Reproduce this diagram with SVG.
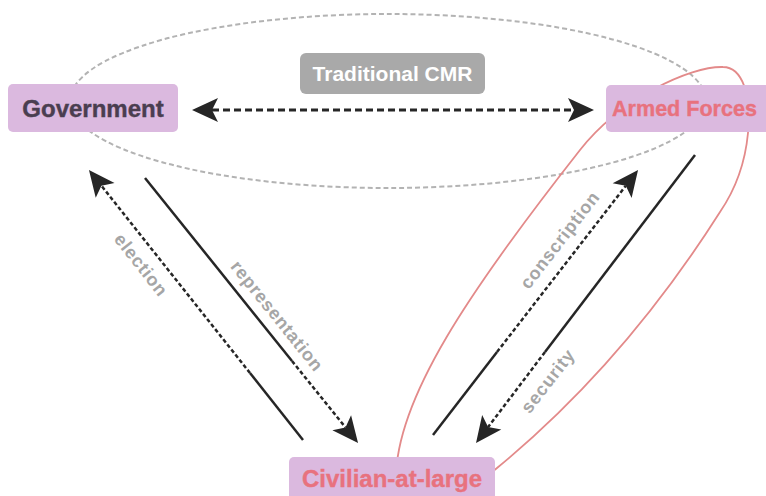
<svg xmlns="http://www.w3.org/2000/svg" width="766" height="496" viewBox="0 0 766 496">
<style>
.node rect{fill:#dbb9df}
.nt{font-family:"Liberation Sans",Arial,sans-serif;font-weight:bold;font-size:24px;text-anchor:middle;stroke-width:0.4}
.lbl{font-family:"Liberation Sans",Arial,sans-serif;font-weight:bold;font-size:18px;fill:#a6a6a6;text-anchor:middle;dominant-baseline:central;letter-spacing:0.8px}
.solid{fill:none;stroke:#262626;stroke-width:2.5}
.dash{fill:none;stroke:#262626;stroke-width:2.5;stroke-dasharray:4 2.5}
.hdash{fill:none;stroke:#262626;stroke-width:3;stroke-dasharray:7 4}
</style>
<defs>
<marker id="ah" markerUnits="userSpaceOnUse" markerWidth="30" markerHeight="26" refX="6" refY="0" orient="auto-start-reverse" overflow="visible">
<path d="M0,-12 L26,0 L0,12 L6,0 Z" fill="#262626"/>
</marker>
</defs>
<rect width="766" height="496" fill="#ffffff"/>
<g id="groupings">
<ellipse cx="388" cy="101" rx="318" ry="87" fill="none" stroke="#b3b3b3" stroke-width="2" stroke-dasharray="5 3"/>
<path d="M396,480 C395,400 470,290 580,150 C620,99 690,66 723,67 C742,67 752,95 748,133 C745,165 735,190 720,212 C680,275 610,375 497,468 L470,490" fill="none" stroke="#e38a8a" stroke-width="1.8"/>
</g>
<g id="connectors">
<g id="traditional">
<path class="hdash" d="M212,110 L574,110" marker-start="url(#ah)" marker-end="url(#ah)"/>
</g>
<g id="election">
<path class="solid" d="M303,440 L250,373"/>
<path class="dash" d="M250,373 L101.4,185.7" marker-end="url(#ah)"/>
</g>
<g id="representation">
<path class="solid" d="M145,178 L292,361"/>
<path class="dash" d="M292,361 L345.5,427.4" marker-end="url(#ah)"/>
</g>
<g id="conscription">
<path class="solid" d="M433,435 L497,352"/>
<path class="dash" d="M497,352 L625.8,185.8" marker-end="url(#ah)"/>
</g>
<g id="security">
<path class="solid" d="M695,155 L545,352"/>
<path class="dash" d="M545,352 L488.1,427.1" marker-end="url(#ah)"/>
</g>
<text class="lbl" transform="translate(141,265) rotate(51.6)">election</text>
<text class="lbl" transform="translate(277,316) rotate(51.2)">representation</text>
<text class="lbl" transform="translate(560,240) rotate(-52.3)">conscription</text>
<text class="lbl" transform="translate(548,381) rotate(-52)">security</text>
</g>
<g id="traditional-cmr">
<rect x="300" y="53" width="185" height="41" rx="6" fill="#a9a9a9"/>
<text x="392.5" y="81" font-family="'Liberation Sans',Arial,sans-serif" font-weight="bold" font-size="21" fill="#ffffff" text-anchor="middle">Traditional CMR</text>
</g>
<g id="government" class="node">
<rect x="8" y="84" width="170" height="48" rx="5"/>
<text class="nt" x="93" y="117" fill="#4a3e50" stroke="#4a3e50">Government</text>
</g>
<g id="armed-forces" class="node">
<rect x="606" y="85" width="175" height="47" rx="5"/>
<text class="nt" x="612" y="116" fill="#e8727e" stroke="#e8727e" textLength="145" lengthAdjust="spacingAndGlyphs" style="text-anchor:start;font-size:22px">Armed Forces</text>
</g>
<g id="civilian" class="node">
<rect x="289" y="457" width="206" height="50" rx="5"/>
<text class="nt" x="392" y="487" fill="#e8727e" stroke="#e8727e">Civilian-at-large</text>
</g>
</svg>
